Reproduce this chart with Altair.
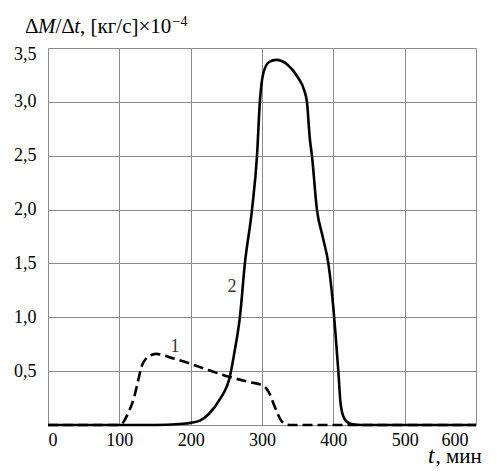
import altair as alt
import pandas as pd

# Curve 1 (dashed)
t1 = [0, 100, 106, 113, 120, 126, 131, 138, 145, 152, 160, 175, 199, 225, 255, 285, 300, 306, 311, 316, 321, 326, 332, 340, 600]
v1 = [0, 0, 0.03, 0.12, 0.24, 0.40, 0.54, 0.62, 0.65, 0.66, 0.65, 0.62, 0.57, 0.51, 0.445, 0.395, 0.37, 0.34, 0.285, 0.20, 0.12, 0.05, 0.01, 0, 0]
# Curve 2 (solid)
t2 = [0, 150, 185, 200, 213, 225, 241, 255, 262, 269, 276, 286, 293, 297, 302, 310, 320, 335, 349, 360, 363, 367, 370, 377, 385, 393, 400, 403, 407, 410, 414, 419, 425, 440, 600]
v2 = [0, 0, 0.01, 0.02, 0.04, 0.10, 0.24, 0.45, 0.70, 1.0, 1.5, 2.0, 2.5, 3.0, 3.27, 3.37, 3.39, 3.35, 3.24, 3.09, 3.0, 2.66, 2.5, 2.0, 1.75, 1.5, 1.09, 0.85, 0.5, 0.21, 0.08, 0.03, 0.01, 0, 0]

label_t = [178, 258]
label_v = [0.72, 1.28]
label_txt = ["1", "2"]

x_ticks = [0, 100, 200, 300, 400, 500, 600]
y_ticks = [0, 0.5, 1.0, 1.5, 2.0, 2.5, 3.0, 3.5]

FONT = "Liberation Serif"
GRID = "#8a8a8a"
W, H = 428, 377

df1 = pd.DataFrame({"t": t1, "v": v1})
df2 = pd.DataFrame({"t": t2, "v": v2})
dfl = pd.DataFrame({"t": label_t, "v": label_v, "s": label_txt})

xs = alt.Scale(domain=[0, 600], nice=False, zero=False)
ys = alt.Scale(domain=[0, 3.5], nice=False)

xax = alt.Axis(
    values=x_ticks, grid=True, gridColor=GRID, gridWidth=1, domain=False, ticks=False,
    labelFont=FONT, labelFontSize=18, labelColor="black", labelPadding=6, title=None,
    labelOffset={"condition": {"test": "datum.value == 600", "value": -8}, "value": 0},
)
yax = alt.Axis(
    values=y_ticks, grid=True, gridColor=GRID, gridWidth=1, domain=False, ticks=False,
    labelFont=FONT, labelFontSize=18, labelColor="black", labelPadding=12, title=None,
    labelExpr="datum.value == 0 ? '' : replace(format(datum.value, '.1f'), '.', ',')",
    labelOffset={"condition": {"test": "datum.value == 3.5", "value": 6}, "value": 0},
)

base_x = alt.X("t:Q", scale=xs, axis=xax)
base_y = alt.Y("v:Q", scale=ys, axis=yax)

line1 = alt.Chart(df1).mark_line(
    color="black", strokeWidth=2.6, strokeDash=[10, 5], interpolate="monotone"
).encode(x=base_x, y=base_y)
line2 = alt.Chart(df2).mark_line(
    color="black", strokeWidth=2.6, interpolate="monotone"
).encode(x=alt.X("t:Q", scale=xs), y=alt.Y("v:Q", scale=ys))

labels = alt.Chart(dfl).mark_text(font=FONT, fontSize=18, color="#333").encode(
    x=alt.X("t:Q", scale=xs), y=alt.Y("v:Q", scale=ys), text="s:N"
)


def txt(s, x, y, size=21, style="normal"):
    return alt.Chart(pd.DataFrame({"s": [s]})).mark_text(
        font=FONT, fontSize=size, fontStyle=style, color="black",
        align="left", baseline="alphabetic"
    ).encode(text="s:N", x=alt.value(x), y=alt.value(y))


ytitle = [
    txt("Δ", -23, -15),
    txt("M", -10, -15, style="italic"),
    txt("/Δ", 7.5, -15),
    txt("t", 26.2, -15, style="italic"),
    txt(", [кг/с]×10", 32, -15),
    txt("−4", 124.5, -22, size=14),
]
xtitle = [
    txt("t", 380, H + 38, size=23, style="italic"),
    txt(", мин", 387.5, H + 38, size=21),
]

chart = alt.layer(line1, line2, labels, *ytitle, *xtitle).properties(
    width=W, height=H,
    autosize=alt.AutoSizeParams(type="none"),
    padding={"left": 40, "top": 40, "right": 13, "bottom": 43},
).configure_view(stroke=GRID, strokeWidth=1).configure(background="white")

chart.save("out.html", embed_options={"renderer": "svg", "actions": False})
